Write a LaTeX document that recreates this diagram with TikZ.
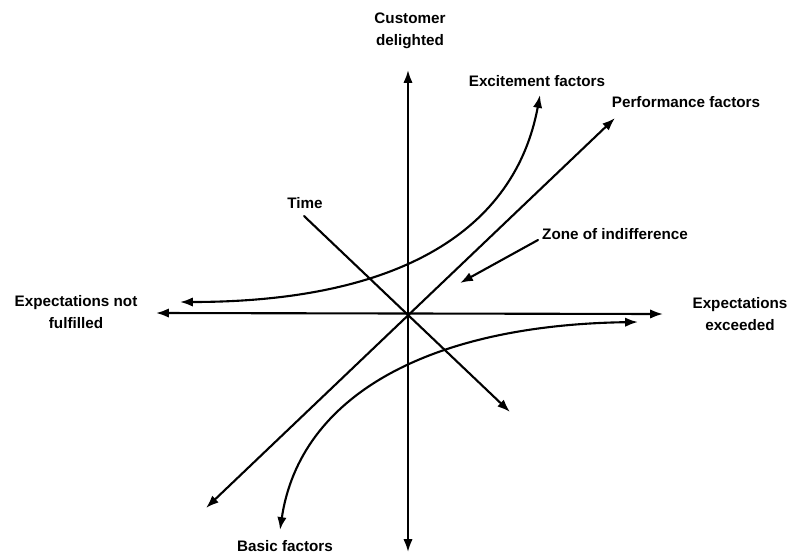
\documentclass[tikz,border=0pt]{standalone}
\usepackage{fontspec}
\setmainfont{Liberation Sans}
\usetikzlibrary{arrows.meta}
\tikzstyle{every node}=[font=\bfseries\fontsize{13}{19}\selectfont,align=center,inner sep=1pt]
\tikzstyle{every path}=[line width=1.8pt,line cap=round,line join=round]
\tikzstyle{tip}=[-{Latex[length=11pt,width=8pt]}]
\tikzstyle{twotip}=[{Latex[length=11pt,width=8pt]}-{Latex[length=11pt,width=8pt]}]

\begin{document}
\begin{tikzpicture}[x=0.03cm,y=-0.03cm]
% Kano model, drawn on a 792x554 grid (y pointing down)
	\useasboundingbox (0,0) rectangle (792,554);
	\coordinate (O) at (408,315) ; %% O is where the axes cross
	\coordinate (AT) at (408,70) ; \coordinate (AB) at (408,552) ; %% top and bottom of the satisfaction axis
	\coordinate (AL) at (156,313) ; \coordinate (AR) at (663,314) ; %% ends of the fulfilment axis
	\draw [twotip] (AB) -- (AT);
	\draw [twotip] (AL) -- (AR);
	\node (cust) at (410,31) {Customer\\delighted};
	\node (notful) at (76,312) {Expectations not\\fulfilled};
	\node (exceed) at (740,314) {Expectations\\exceeded};
	% performance line, time line
	\coordinate (PB) at (206,508) ; \coordinate (PT) at (615,118) ;
	\draw [twotip] (PB) -- (PT);
	\node (perf) at (686,102) {Performance factors};
	\node (time) at (305,203) {Time};
	\coordinate (T0) at (304,216) ; \coordinate (T1) at (510,412) ;
	\draw [tip] (T0) -- (T1);
	% excitement and basic curves
	\coordinate (EL) at (180,302) ; \coordinate (ET) at (540,95) ;
	\draw [twotip] (EL) .. controls (400,302) and (515,230) .. (ET);
	\node (exc) at (537,81) {Excitement factors};
	\coordinate (BR) at (638,322) ; \coordinate (BB) at (280,530) ;
	\draw [twotip] (BR) .. controls (430,325) and (300,395) .. (BB);
	\node (basic) at (285,546) {Basic factors};
	% zone of indifference
	\node (zone) at (615,234) {Zone of indifference};
	\coordinate (Z0) at (538,240) ; \coordinate (Z1) at (460,283) ; %% Z1 is the arrow's tip
	\draw [tip] (Z0) -- (Z1);
\end{tikzpicture}
\end{document}
